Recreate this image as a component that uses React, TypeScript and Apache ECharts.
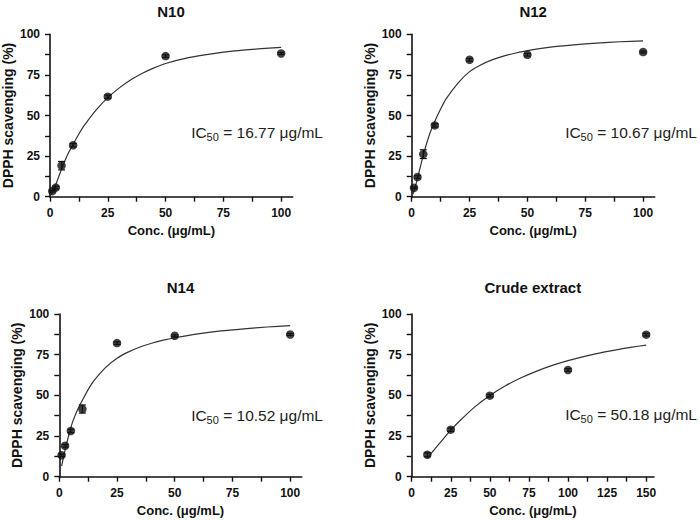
import { useEffect, useRef } from "react";
import * as echarts from "echarts";

// Panel titles and fitted IC50 values
const panelTitles = ["N10", "N12", "N14", "Crude extract"];
const ic50Values = ["16.77", "10.67", "10.52", "50.18"];

// Measured scavenging (%) with error (SD)
const n10Conc = [1, 2.5, 5, 10, 25, 50, 100];
const n10Scav = [3.4, 5.6, 19.1, 31.7, 61.6, 86.6, 88.2];
const n10Err = [0.5, 0.8, 2.6, 1.0, 1.0, 0.8, 0.6];

const n12Conc = [1, 2.5, 5, 10, 25, 50, 100];
const n12Scav = [5.5, 12.1, 26.2, 43.9, 84.3, 87.4, 89.1];
const n12Err = [0.5, 0.8, 2.7, 1.0, 0.8, 0.8, 0.6];

const n14Conc = [1, 2.5, 5, 10, 25, 50, 100];
const n14Scav = [13.2, 19.0, 28.1, 41.6, 82.1, 86.6, 87.4];
const n14Err = [0.8, 0.8, 1.0, 2.5, 0.8, 0.6, 0.6];

const crudeConc = [10, 25, 50, 100, 150];
const crudeScav = [13.5, 28.9, 49.8, 65.6, 87.3];
const crudeErr = [1.2, 1.0, 0.8, 0.8, 0.8];

// Dose-response fit curves
const n10FitConc = [0.6, 1, 2, 3, 4, 5, 6, 8, 10, 12.5, 15, 20, 25, 30, 35, 40, 45, 50, 60, 70, 80, 90, 100];
const n10FitScav = [1.2, 2.5, 5.8, 9.4, 13.2, 17, 20.6, 27, 32.3, 38.6, 44.2, 53.4, 61, 67, 72, 76, 79.3, 82, 85.6, 88, 89.8, 91, 92];

const n12FitConc = [0.6, 1, 2, 3, 4, 5, 6, 8, 10, 12.5, 15, 20, 25, 30, 35, 40, 45, 50, 60, 70, 80, 90, 100];
const n12FitScav = [1.6, 3.4, 8.5, 14.2, 19.9, 25.4, 30.6, 39.5, 46.5, 54, 60.5, 70, 77, 81.3, 84.4, 86.7, 88.5, 90, 92.1, 93.5, 94.6, 95.4, 96];

const n14FitConc = [1, 2, 3, 4, 5, 6, 8, 10, 12.5, 15, 20, 25, 30, 35, 40, 45, 50, 60, 70, 80, 90, 100];
const n14FitScav = [6.5, 13.2, 19.4, 25, 30.1, 34.6, 41.5, 47, 53.5, 59, 67, 72.8, 76.7, 79.7, 82, 83.9, 85.4, 87.8, 89.6, 90.9, 92, 92.8];

const crudeFitConc = [10, 15, 20, 25, 30, 40, 50, 60, 70, 80, 90, 100, 110, 120, 130, 140, 150];
const crudeFitScav = [11.5, 17.3, 23, 28.6, 33.6, 42.6, 49.9, 55.9, 60.8, 64.9, 68.4, 71.3, 73.8, 76, 77.8, 79.5, 80.9];

// Axis ticks and labels
const yLabelTicks = [0, 25, 50, 75, 100];
const yAllTicks = [0, 12.5, 25, 37.5, 50, 62.5, 75, 87.5, 100];
const x100LabelTicks = [0, 25, 50, 75, 100];
const x100AllTicks = [0, 12.5, 25, 37.5, 50, 62.5, 75, 87.5, 100];
const x150LabelTicks = [0, 25, 50, 75, 100, 125, 150];
const x150AllTicks = [0, 12.5, 25, 37.5, 50, 62.5, 75, 87.5, 100, 112.5, 125, 137.5, 150];
const xAxisMax = [105, 105, 105, 155];

const FONT = "'Liberation Sans', Arial, Helvetica, sans-serif";
const INK = "#111";

const panels = [
  { conc: n10Conc, scav: n10Scav, err: n10Err, fitX: n10FitConc, fitY: n10FitScav, labels: x100LabelTicks, ticks: x100AllTicks },
  { conc: n12Conc, scav: n12Scav, err: n12Err, fitX: n12FitConc, fitY: n12FitScav, labels: x100LabelTicks, ticks: x100AllTicks },
  { conc: n14Conc, scav: n14Scav, err: n14Err, fitX: n14FitConc, fitY: n14FitScav, labels: x100LabelTicks, ticks: x100AllTicks },
  { conc: crudeConc, scav: crudeScav, err: crudeErr, fitX: crudeFitConc, fitY: crudeFitScav, labels: x150LabelTicks, ticks: x150AllTicks },
];

const gridBoxes = [
  { left: 49.3, top: 34.3, width: 243.4, height: 162.4 },
  { left: 411.7, top: 34.3, width: 243, height: 162.4 },
  { left: 59.3, top: 314, width: 242.4, height: 162.7 },
  { left: 411.7, top: 314, width: 242.3, height: 162.7 },
];

const icTextPos = [
  { x: 323, y: 132 },
  { x: 697, y: 132 },
  { x: 323, y: 415 },
  { x: 697, y: 414 },
];

function buildOption(): echarts.EChartsOption {
  const axisLine = { show: true, onZero: false, lineStyle: { color: INK, width: 1.6 } };
  const labelStyle = { fontSize: 12, fontWeight: "bold" as const, color: INK, fontFamily: FONT };

  const xAxes = panels.map((p, i) => ({
    type: "value" as const,
    gridIndex: i,
    min: 0,
    max: xAxisMax[i],
    axisLine,
    axisTick: { show: true, length: 5, customValues: p.ticks, lineStyle: { color: INK, width: 1.4 } },
    axisLabel: { ...labelStyle, margin: 10, customValues: p.labels },
    splitLine: { show: false },
    name: "Conc. (μg/mL)",
    nameLocation: "middle" as const,
    nameGap: 27,
    nameTextStyle: { fontSize: 13, fontWeight: "bold" as const, color: INK, fontFamily: FONT },
  }));

  const yAxes = panels.map((_p, i) => ({
    type: "value" as const,
    gridIndex: i,
    min: 0,
    max: 100,
    axisLine,
    axisTick: { show: true, length: 5, customValues: yAllTicks, lineStyle: { color: INK, width: 1.4 } },
    axisLabel: { ...labelStyle, margin: 10, customValues: yLabelTicks },
    splitLine: { show: false },
    name: "DPPH scavenging (%)",
    nameLocation: "middle" as const,
    nameGap: 35,
    nameTextStyle: { fontSize: 14, fontWeight: "bold" as const, color: INK, fontFamily: FONT },
  }));

  const series: any[] = [];
  panels.forEach((p, i) => {
    series.push({
      type: "line",
      xAxisIndex: i,
      yAxisIndex: i,
      data: p.fitX.map((x, k) => [x, p.fitY[k]]),
      showSymbol: false,
      smooth: 0.2,
      lineStyle: { color: "#333", width: 1.2 },
      z: 2,
    });
    series.push({
      type: "custom",
      xAxisIndex: i,
      yAxisIndex: i,
      data: p.conc.map((x, k) => [x, p.scav[k], p.err[k]]),
      renderItem: (_params: any, api: any) => {
        const x = api.value(0);
        const y = api.value(1);
        const e = api.value(2);
        const hi = api.coord([x, y + e]);
        const lo = api.coord([x, y - e]);
        const w = 3.5;
        const style = { stroke: INK, lineWidth: 1.2 };
        return {
          type: "group",
          children: [
            { type: "line", shape: { x1: hi[0], y1: hi[1], x2: lo[0], y2: lo[1] }, style },
            { type: "line", shape: { x1: hi[0] - w, y1: hi[1], x2: hi[0] + w, y2: hi[1] }, style },
            { type: "line", shape: { x1: lo[0] - w, y1: lo[1], x2: lo[0] + w, y2: lo[1] }, style },
          ],
        };
      },
      z: 3,
    });
    series.push({
      type: "scatter",
      xAxisIndex: i,
      yAxisIndex: i,
      data: p.conc.map((x, k) => [x, p.scav[k]]),
      symbol: "circle",
      symbolSize: 8.5,
      itemStyle: { color: INK },
      z: 4,
    });
  });

  const titles = panelTitles.map((t, i) => ({
    text: t,
    left: gridBoxes[i].left + gridBoxes[i].width / 2,
    top: i < 2 ? 4 : 280,
    textAlign: "center" as const,
    padding: 0,
    textStyle: { fontSize: 15, fontWeight: "bold" as const, color: INK, fontFamily: FONT },
  }));

  const icTexts = ic50Values.map((v, i) => ({
    type: "text" as const,
    x: icTextPos[i].x,
    y: icTextPos[i].y,
    style: {
      text: `{m|IC}{s|50}{m| = ${v} μg/mL}`,
      align: "right" as const,
      verticalAlign: "middle" as const,
      rich: {
        m: { fontSize: 15.5, lineHeight: 20, fontFamily: FONT, fill: "#222" },
        s: { fontSize: 11, lineHeight: 9, fontFamily: FONT, fill: "#222", verticalAlign: "bottom" as const },
      },
    },
  }));

  return {
    animation: false,
    backgroundColor: "#fff",
    title: titles,
    grid: gridBoxes.map((g) => ({ ...g, containLabel: false })),
    xAxis: xAxes,
    yAxis: yAxes,
    series,
    graphic: icTexts,
  } as echarts.EChartsOption;
}

export default function App() {
  const ref = useRef<HTMLDivElement>(null);

  useEffect(() => {
    if (!ref.current) return;
    const chart = echarts.init(ref.current, undefined, { renderer: "svg" });
    chart.setOption(buildOption());
    return () => chart.dispose();
  }, []);

  return (
    <div
      ref={ref}
      style={{ position: "fixed", left: 0, top: 0, width: 700, height: 520, background: "#fff" }}
    />
  );
}
